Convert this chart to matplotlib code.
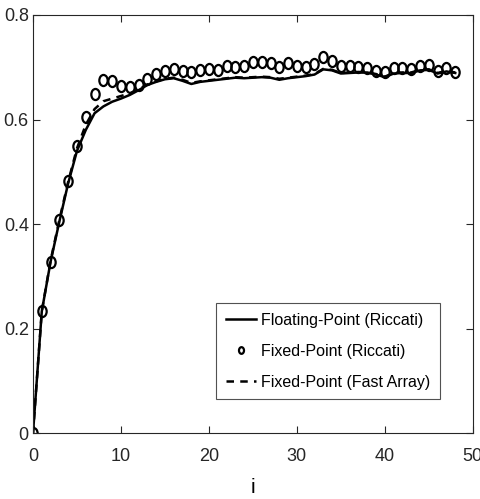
import numpy as np
import matplotlib
matplotlib.use("Agg")
import matplotlib.pyplot as plt
from matplotlib.path import Path
from matplotlib.transforms import Affine2D

plt.rcParams['font.family'] = ['Liberation Sans', 'DejaVu Sans']

iters = list(range(49))

fixed_riccati = [0.0, 0.233, 0.328, 0.408, 0.482, 0.549, 0.605, 0.649, 0.676, 0.673,
                 0.665, 0.662, 0.666, 0.678, 0.688, 0.693, 0.697, 0.693, 0.691, 0.695,
                 0.697, 0.694, 0.702, 0.701, 0.703, 0.710, 0.710, 0.708, 0.701, 0.708,
                 0.702, 0.701, 0.706, 0.719, 0.712, 0.702, 0.702, 0.700, 0.699, 0.692,
                 0.690, 0.698, 0.699, 0.696, 0.702, 0.704, 0.692, 0.698, 0.691]

floating_riccati = [0.0, 0.233, 0.328, 0.405, 0.478, 0.540, 0.580, 0.612, 0.625, 0.634,
                    0.640, 0.647, 0.656, 0.666, 0.672, 0.677, 0.679, 0.674, 0.668, 0.672,
                    0.674, 0.676, 0.678, 0.680, 0.679, 0.680, 0.681, 0.680, 0.676, 0.679,
                    0.681, 0.683, 0.686, 0.696, 0.694, 0.688, 0.689, 0.690, 0.690, 0.686,
                    0.681, 0.688, 0.689, 0.689, 0.694, 0.695, 0.688, 0.692, 0.689]

fixed_fast_array = [0.0, 0.233, 0.330, 0.408, 0.481, 0.545, 0.590, 0.620, 0.635, 0.640,
                    0.645, 0.650, 0.658, 0.667, 0.673, 0.678, 0.680, 0.676, 0.670, 0.673,
                    0.675, 0.677, 0.679, 0.681, 0.680, 0.681, 0.682, 0.681, 0.678, 0.680,
                    0.682, 0.684, 0.687, 0.697, 0.695, 0.689, 0.690, 0.691, 0.690, 0.687,
                    0.682, 0.689, 0.690, 0.690, 0.695, 0.696, 0.689, 0.693, 0.690]

# slightly tall circle, like the squeezed original
ellipse = Path.unit_circle().transformed(Affine2D().scale(0.75, 1.0))

fig = plt.figure(figsize=(4.81, 4.99), dpi=100)
ax = fig.add_axes([0.0686, 0.132, 0.9144, 0.838])

ax.plot(iters, floating_riccati, color='black', lw=1.8, label='Floating-Point (Riccati)')
ax.plot(iters, fixed_riccati, linestyle='none', marker=ellipse, markersize=8,
        markerfacecolor='none', markeredgecolor='black', markeredgewidth=1.6,
        label='Fixed-Point (Riccati)')
ax.plot(iters, fixed_fast_array, color='black', lw=1.8, linestyle='--', dashes=(3, 2.5),
        label='Fixed-Point (Fast Array)')

ax.set_xlim(0, 50)
ax.set_ylim(0, 0.8)
ax.set_xticks([0, 10, 20, 30, 40, 50])
ax.set_yticks([0, 0.2, 0.4, 0.6, 0.8])
ax.set_yticklabels(['0', '0.2', '0.4', '0.6', '0.8'])
ax.tick_params(direction='in', top=True, right=True, length=5, width=0.8,
               colors='#262626', labelsize=13)
ax.tick_params(axis='x', pad=11)
ax.tick_params(axis='y', pad=3)
for s in ax.spines.values():
    s.set_color('#262626')
    s.set_linewidth(0.8)

ax.set_xlabel('i', fontsize=15, labelpad=9)

leg = ax.legend(loc='lower right', bbox_to_anchor=(0.925, 0.081), fontsize=11.5,
                frameon=True, fancybox=False, edgecolor='#262626', handlelength=1.9,
                handletextpad=0.3, borderpad=0.6, labelspacing=1.0, markerscale=0.6,
                borderaxespad=0)
leg.get_frame().set_linewidth(0.8)

fig.savefig('out.png', dpi=100)
